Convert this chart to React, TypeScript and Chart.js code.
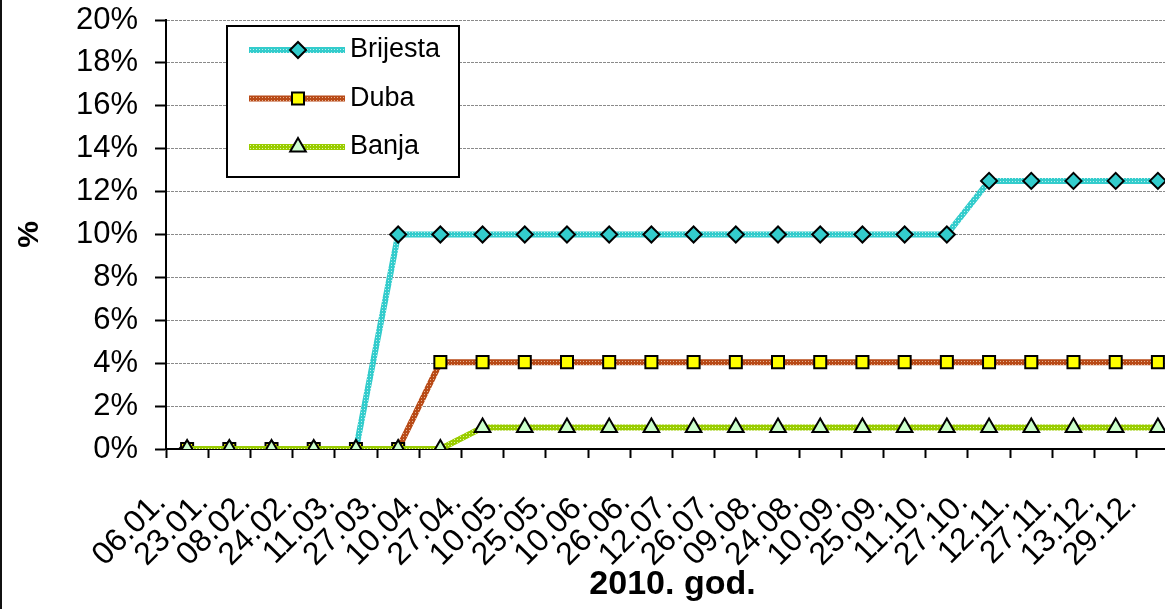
import React, { useEffect, useRef } from 'react';
import { Chart, registerables } from 'chart.js';

Chart.register(...registerables);

// Measurement dates (2010)
const dates = [
  '06.01.', '23.01.', '08.02.', '24.02.', '11.03.', '27.03.', '10.04.', '27.04.',
  '10.05.', '25.05.', '10.06.', '26.06.', '12.07.', '26.07.', '09.08.', '24.08.',
  '10.09.', '25.09.', '11.10.', '27.10.', '12.11.', '27.11.', '13.12.', '29.12.',
];

// Share in %, per site
const brijesta = [
  0, 0, 0, 0, 0, 10, 10, 10, 10, 10, 10, 10, 10, 10, 10, 10, 10, 10, 10,
  12.5, 12.5, 12.5, 12.5, 12.5,
];
const duba = [
  0, 0, 0, 0, 0, 0, 4.05, 4.05, 4.05, 4.05, 4.05, 4.05, 4.05, 4.05, 4.05,
  4.05, 4.05, 4.05, 4.05, 4.05, 4.05, 4.05, 4.05, 4.05,
];
const banja = [
  0, 0, 0, 0, 0, 0, 0, 1, 1, 1, 1, 1, 1, 1, 1, 1, 1, 1, 1, 1, 1, 1, 1, 1,
];

const seriesNames = ['Brijesta', 'Duba', 'Banja'];

const yMin = 0;
const yMax = 20;
const yStep = 2;

const FONT = '"Liberation Sans", Arial, sans-serif';

// Textured stroke: solid colour with a lighter dot in every 3x3 cell
function texture(ctx: CanvasRenderingContext2D, base: string, dot: string) {
  const c = document.createElement('canvas');
  c.width = 3;
  c.height = 3;
  const g = c.getContext('2d')!;
  g.fillStyle = base;
  g.fillRect(0, 0, 3, 3);
  g.fillStyle = dot;
  g.fillRect(1, 1, 1, 1);
  return ctx.createPattern(c, 'repeat')!;
}

function drawMarker(
  ctx: CanvasRenderingContext2D,
  style: string,
  x: number,
  y: number,
  r: number,
  fill: string,
) {
  ctx.beginPath();
  if (style === 'rectRot') {
    ctx.moveTo(x - r, y);
    ctx.lineTo(x, y - r);
    ctx.lineTo(x + r, y);
    ctx.lineTo(x, y + r);
    ctx.closePath();
  } else if (style === 'rect') {
    const s = Math.SQRT1_2 * r;
    ctx.rect(x - s, y - s, 2 * s, 2 * s);
  } else {
    const a = (2 * Math.PI) / 3;
    ctx.moveTo(x, y - r);
    ctx.lineTo(x + Math.sin(a) * r, y - Math.cos(a) * r);
    ctx.lineTo(x + Math.sin(2 * a) * r, y - Math.cos(2 * a) * r);
    ctx.closePath();
  }
  ctx.fillStyle = fill;
  ctx.fill();
  ctx.lineWidth = 2;
  ctx.strokeStyle = '#000';
  ctx.stroke();
}

// Boxed legend inside the plot area plus the frame's left edge
const boxLegend = {
  id: 'boxLegend',
  afterDraw(chart: any) {
    const ctx: CanvasRenderingContext2D = chart.ctx;
    const { left, top } = chart.chartArea;
    const bx = left + 61;
    const by = top + 6;
    const bw = 232;
    const bh = 151;
    ctx.save();
    ctx.fillStyle = '#fff';
    ctx.fillRect(bx, by, bw, bh);
    ctx.strokeStyle = '#000';
    ctx.lineWidth = 2;
    ctx.strokeRect(bx, by, bw, bh);
    chart.data.datasets.forEach((ds: any, i: number) => {
      const y = by + 24 + i * 48.5;
      ctx.strokeStyle = ds.borderColor;
      ctx.lineWidth = ds.borderWidth;
      ctx.beginPath();
      ctx.moveTo(bx + 22, y);
      ctx.lineTo(bx + 118, y);
      ctx.stroke();
      drawMarker(ctx, ds.pointStyle, bx + 71, y, ds.pointRadius, ds.pointBackgroundColor);
      ctx.fillStyle = '#000';
      ctx.font = `27px ${FONT}`;
      ctx.textBaseline = 'middle';
      ctx.textAlign = 'left';
      ctx.fillText(ds.label, bx + 123, y);
    });
    ctx.fillStyle = '#111';
    ctx.fillRect(0, 0, 2, chart.height);
    ctx.restore();
  },
};

export default function App() {
  const ref = useRef<HTMLCanvasElement>(null);

  useEffect(() => {
    const canvas = ref.current!;
    const ctx = canvas.getContext('2d')!;
    const chart = new Chart(canvas, {
      type: 'line',
      data: {
        labels: dates,
        datasets: [
          {
            label: seriesNames[0],
            data: brijesta,
            borderColor: texture(ctx, '#33CCCC', '#bdeeee'),
            borderWidth: 6,
            pointStyle: 'rectRot',
            pointRadius: 8,
            pointBackgroundColor: '#33CCCC',
            pointBorderColor: '#000',
            pointBorderWidth: 2,
            tension: 0,
            order: 2,
          },
          {
            label: seriesNames[1],
            data: duba,
            borderColor: texture(ctx, '#B84A17', '#e6b393'),
            borderWidth: 6,
            pointStyle: 'rect',
            pointRadius: 8.5,
            pointBackgroundColor: '#FFFF00',
            pointBorderColor: '#000',
            pointBorderWidth: 2,
            tension: 0,
            order: 1,
          },
          {
            label: seriesNames[2],
            data: banja,
            borderColor: texture(ctx, '#99CC00', '#e2f4a6'),
            borderWidth: 6,
            pointStyle: 'triangle',
            pointRadius: 9,
            pointBackgroundColor: '#CCFFCC',
            pointBorderColor: '#000',
            pointBorderWidth: 2,
            tension: 0,
            order: 0,
          },
        ],
      },
      options: {
        responsive: false,
        animation: false,
        devicePixelRatio: 1,
        layout: { padding: { top: 20, right: 11, bottom: 0, left: 0 } },
        plugins: {
          legend: { display: false },
          tooltip: { enabled: false },
        },
        scales: {
          x: {
            type: 'category',
            offset: true,
            grid: {
              offset: true,
              drawOnChartArea: false,
              tickLength: 9,
              tickColor: '#000',
              tickWidth: 2,
            },
            border: { display: true, color: '#000', width: 2 },
            ticks: {
              autoSkip: false,
              maxRotation: 45,
              minRotation: 45,
              labelOffset: -26,
              padding: 26,
              color: '#000',
              font: { family: FONT, size: 32 },
            },
            title: {
              display: true,
              text: '2010. god.',
              color: '#000',
              font: { family: FONT, size: 34, weight: 'bold' },
              padding: { top: 0, bottom: 4 },
            },
            afterFit(scale: any) {
              scale.height = 160;
              scale.paddingLeft = 0;
              scale.paddingRight = 0;
            },
          },
          y: {
            min: yMin,
            max: yMax,
            grid: {
              color: '#8a8a8a',
              lineWidth: 1,
              tickLength: 11,
              tickColor: '#000',
              tickWidth: 2,
              tickBorderDash: [],
            },
            border: { display: true, color: '#000', width: 2, dash: [3, 1] },
            ticks: {
              stepSize: yStep,
              padding: 17,
              color: '#000',
              font: { family: FONT, size: 31 },
              callback: (v: any) => `${v}%`,
            },
            title: {
              display: true,
              text: '%',
              color: '#000',
              font: { family: FONT, size: 30, weight: 'bold' },
              padding: { top: 12, bottom: 0 },
            },
            afterFit(scale: any) {
              scale.width = 166;
              scale.paddingTop = 0;
              scale.paddingBottom = 0;
            },
          },
        },
      },
      plugins: [boxLegend],
    });
    return () => chart.destroy();
  }, []);

  return (
    <div
      style={{
        position: 'fixed',
        left: 0,
        top: 0,
        width: 1165,
        height: 609,
        overflow: 'hidden',
        background: '#fff',
      }}
    >
      <canvas ref={ref} width={1190} height={609} style={{ display: 'block' }} />
    </div>
  );
}
